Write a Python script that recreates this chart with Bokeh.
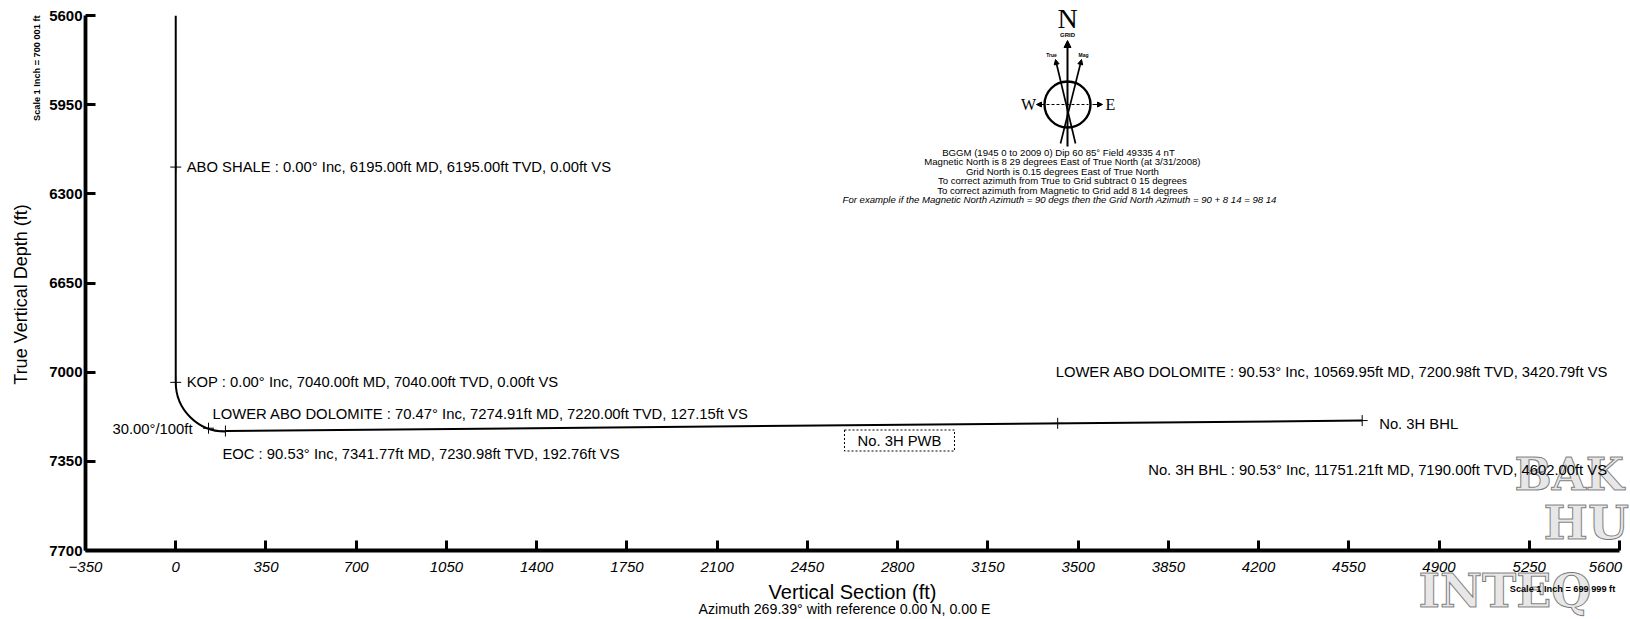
import math
from bokeh.plotting import figure
from bokeh.models import Range1d, FixedTicker, ColumnDataSource, Arrow, NormalHead
from bokeh.core.properties import value
from bokeh.embed import file_html
from bokeh.resources import INLINE

# ---------------- data ----------------
X_TICKS = [-350, 0, 350, 700, 1050, 1400, 1750, 2100, 2450, 2800, 3150, 3500,
           3850, 4200, 4550, 4900, 5250, 5600]
Y_TICKS = [5600, 5950, 6300, 6650, 7000, 7350, 7700]

# vertical hole (section shown from 5600 ft down to KOP)
VERT_VS = [0.00, 0.00]
VERT_TVD = [5600.00, 7040.00]
# build section
KOP_VS = 0.00
KOP_TVD = 7040.00
BUILD_RATE = 30.00          # deg / 100 ft
EOC_INC = 90.53             # deg
# lateral (tangent) section: EOC -> BHL
LAT_VS = [192.76, 4602.00]
LAT_TVD = [7230.98, 7190.00]

# survey points / formation tops
PT_NAME = ["ABO SHALE", "KOP", "LOWER ABO DOLOMITE", "EOC", "LOWER ABO DOLOMITE", "No. 3H BHL"]
PT_INC = [0.00, 0.00, 70.47, 90.53, 90.53, 90.53]
PT_MD = [6195.00, 7040.00, 7274.91, 7341.77, 10569.95, 11751.21]
PT_TVD = [6195.00, 7040.00, 7220.00, 7230.98, 7200.98, 7190.00]
PT_VS = [0.00, 0.00, 127.15, 192.76, 3420.79, 4602.00]

PLAN_NAME = "No. 3H PWB"
TARGET_NAME = "No. 3H BHL"
BUILD_TEXT = "30.00°/100ft"
X_TITLE = "Vertical Section (ft)"
Y_TITLE = "True Vertical Depth (ft)"

COMPASS_LINES = [
    "BGGM (1945 0 to 2009 0) Dip  60 85°  Field  49335 4 nT",
    "Magnetic North is 8 29 degrees East of True North (at 3/31/2008)",
    "Grid North is 0.15 degrees East of True North",
    "To correct azimuth from True to Grid subtract 0 15 degrees",
    "To correct azimuth from Magnetic to Grid add 8 14 degrees",
]
COMPASS_EXAMPLE = "For example  if the Magnetic North Azimuth = 90 degs  then the Grid North Azimuth = 90 + 8 14 = 98 14"
AZIMUTH_NOTE = "Azimuth 269.39° with reference 0.00 N, 0.00 E"
SCALE_Y_NOTE = "Scale 1 Inch = 700 001 ft"
SCALE_X_NOTE = "Scale 1 Inch = 699 999 ft"
LOGO_TEXT = ["BAK", "HU", "INTEQ"]

# ---------------- layout / style ----------------
FONT = "Liberation Sans"
SERIF = "Liberation Serif"
W, H = 1630, 619
ML, MR, MT, MB = 85, 11, 15, 69
FW = W - ML - MR
FH = H - MT - MB
PX_X = (X_TICKS[-1] - X_TICKS[0]) / FW     # data units per pixel
PX_Y = (Y_TICKS[-1] - Y_TICKS[0]) / FH

def page_x(px):
    return X_TICKS[0] + (px - ML) * PX_X
def page_y(py):
    return Y_TICKS[0] + (py - MT) * PX_Y

p = figure(width=W, height=H,
           x_range=Range1d(X_TICKS[0], X_TICKS[-1]),
           y_range=Range1d(Y_TICKS[-1], Y_TICKS[0]),
           output_backend="svg", toolbar_location=None,
           min_border_left=ML, min_border_right=MR,
           min_border_top=MT, min_border_bottom=MB)
p.outline_line_color = None
p.grid.visible = False
p.background_fill_color = "white"
p.border_fill_color = "white"

for ax in (p.xaxis[0], p.yaxis[0]):
    ax.axis_line_width = 3.8
    ax.axis_line_color = "black"
    ax.major_tick_in = 10
    ax.major_tick_out = 0
    ax.major_tick_line_width = 3
    ax.major_tick_line_color = "black"
    ax.minor_tick_in = 0
    ax.minor_tick_out = 0
    ax.major_label_text_font = FONT
    ax.major_label_text_font_size = "15px"
    ax.major_label_text_color = "black"
    ax.axis_label_text_font = FONT
    ax.axis_label_text_font_size = "20px"
    ax.axis_label_text_font_style = "normal"
    ax.axis_label_text_color = "black"

p.xaxis.ticker = FixedTicker(ticks=X_TICKS)
p.yaxis.ticker = FixedTicker(ticks=Y_TICKS)
# last label sits at the page edge: pad it so it stays fully visible
p.xaxis.major_label_overrides = {X_TICKS[-1]: str(X_TICKS[-1]) + "\u00a0" * 2}
p.xaxis.major_label_text_font_style = "italic"
p.yaxis.major_label_text_font_style = "bold"
p.xaxis.major_label_standoff = 7
p.yaxis.major_label_standoff = 3
p.xaxis.axis_label = X_TITLE
p.xaxis.axis_label_standoff = 3

# ---------------- well path ----------------
LW = 2
p.line(VERT_VS, VERT_TVD, line_color="black", line_width=LW)
R = 100.0 / math.radians(BUILD_RATE)
p.arc(x=[KOP_VS + R], y=[KOP_TVD], radius=R,
      start_angle=math.pi, end_angle=1.5 * math.pi + math.radians(EOC_INC - 90.0),
      direction="anticlock", line_color="black", line_width=LW)
p.line(LAT_VS, LAT_TVD, line_color="black", line_width=LW)
p.scatter(PT_VS, PT_TVD, marker="cross", size=11, line_color="black", line_width=1)

# ---------------- logo (overlay level, drawn under the labels) ----------------
p.text(x=[page_x(1514), page_x(1543), page_x(1418)],
       y=[page_y(474), page_y(522), page_y(590)],
       text=LOGO_TEXT, text_align="left", text_baseline="middle",
       text_font=value("DejaVu Serif"), text_font_size=["44px", "47px", "46px"],
       text_font_style="bold", text_color="#d0d0d0", text_alpha=0.5,
       text_outline_color="black", level="overlay")

# ---------------- annotations of the points ----------------
def pt_text(i):
    return (f"{PT_NAME[i]} : {PT_INC[i]:.2f}° Inc, {PT_MD[i]:.2f}ft MD, "
            f"{PT_TVD[i]:.2f}ft TVD, {PT_VS[i]:.2f}ft VS")

# (point index, text, x_offset px, y_offset px, align)
ANN = [
    (0, pt_text(0), 11, 0, "left"),
    (1, pt_text(1), 11, 0, "left"),
    (2, pt_text(2), 4, -14, "left"),
    (2, BUILD_TEXT, -16, 1, "right"),
    (3, pt_text(3), -3, 23, "left"),
    (4, pt_text(4), -2, -51, "left"),
    (5, TARGET_NAME, 17, 3, "left"),
    (5, pt_text(5), -214, 49, "left"),
]
src = ColumnDataSource(dict(
    x=[PT_VS[a[0]] for a in ANN],
    y=[PT_TVD[a[0]] for a in ANN],
    t=[a[1] for a in ANN],
    dx=[a[2] for a in ANN],
    dy=[a[3] for a in ANN],
    al=[a[4] for a in ANN],
))
p.text(x="x", y="y", text="t", x_offset="dx", y_offset="dy", text_align="al",
       text_baseline="middle", text_font=value(FONT), text_font_size="14.8px",
       text_color="black", source=src, level="overlay")

# plan name box
PWB_X, PWB_Y = page_x(899), page_y(440)
p.rect(x=[PWB_X], y=[PWB_Y], width=110, height=21, width_units="screen",
       height_units="screen", fill_color=None, line_color="black",
       line_dash="2 2", line_width=1)
p.text(x=[PWB_X], y=[PWB_Y], text=[PLAN_NAME], text_align="center",
       text_baseline="middle", text_font=value(FONT), text_font_size="14.8px",
       text_color="black")

# ---------------- north arrow / compass ----------------
CX, CY = page_x(1067), page_y(104)
def cx(d):
    return CX + d * PX_X
def cy(d):
    return CY + d * PX_Y

p.scatter([CX], [CY], marker="circle", size=46, fill_color=None,
          line_color="black", line_width=2.4)
p.segment(x0=[cx(-21)], y0=[CY], x1=[cx(21)], y1=[CY], line_color="black",
          line_width=1, line_dash="3 2")
head = dict(line_color="black", fill_color="black")
p.add_layout(Arrow(x_start=CX, y_start=cy(42), x_end=CX, y_end=cy(-64),
                   line_width=2, end=NormalHead(size=7, **head)))
p.add_layout(Arrow(x_start=cx(8), y_start=cy(39), x_end=cx(-12), y_end=cy(-45),
                   line_width=1.7, end=NormalHead(size=5, **head)))
p.add_layout(Arrow(x_start=cx(-7), y_start=cy(39), x_end=cx(14), y_end=cy(-45),
                   line_width=1.7, end=NormalHead(size=5, **head)))
p.add_layout(Arrow(x_start=cx(-23), y_start=CY, x_end=cx(-31), y_end=CY,
                   line_width=1, end=NormalHead(size=5, **head)))
p.add_layout(Arrow(x_start=cx(25), y_start=CY, x_end=cx(35), y_end=CY,
                   line_width=1, end=NormalHead(size=5, **head)))

p.text(x=[CX], y=[cy(-86)], text=["N"], text_align="center", text_baseline="middle",
       text_font=value(SERIF), text_font_size="28px", text_color="black", level="overlay")
p.text(x=[cx(-39)], y=[CY], text=["W"], text_align="center", text_baseline="middle",
       text_font=value(SERIF), text_font_size="16px", text_color="black")
p.text(x=[cx(43)], y=[CY], text=["E"], text_align="center", text_baseline="middle",
       text_font=value(SERIF), text_font_size="16px", text_color="black")
p.text(x=[CX], y=[cy(-70)], text=["GRID"], text_align="center", text_baseline="middle",
       text_font=value(FONT), text_font_size="6px", text_font_style="bold", text_color="black")
p.text(x=[cx(-16), cx(16)], y=[cy(-50), cy(-50)], text=["True", "Mag"], text_align="center",
       text_baseline="middle", text_font=value(FONT), text_font_size="5px",
       text_font_style="bold", text_color="black")

p.text(x=[cx(-5)] * len(COMPASS_LINES),
       y=[cy(48 + 9.4 * i) for i in range(len(COMPASS_LINES))],
       text=COMPASS_LINES, text_align="center", text_baseline="middle",
       text_font=value(FONT), text_font_size="9.6px", text_color="black")
p.text(x=[cx(-5)], y=[cy(48 + 9.4 * len(COMPASS_LINES))], text=[COMPASS_EXAMPLE],
       text_align="center", text_baseline="middle", text_font=value(FONT),
       text_font_size="9.6px", text_font_style="italic", text_color="black")

# ---------------- notes outside the frame (overlay level, not clipped) ----------------
p.text(x=[page_x(20)], y=[page_y(294)], text=[Y_TITLE], angle=math.pi / 2,
       text_align="center", text_baseline="middle", text_font=value(FONT),
       text_font_size="18px", text_color="black", level="overlay")
p.text(x=[page_x(36)], y=[page_y(15)], text=[SCALE_Y_NOTE], angle=math.pi / 2,
       text_align="right", text_baseline="middle", text_font=value(FONT),
       text_font_size="9.2px", text_font_style="bold", text_color="black", level="overlay")
p.text(x=[page_x(844)], y=[page_y(608)], text=[AZIMUTH_NOTE],
       text_align="center", text_baseline="middle", text_font=value(FONT),
       text_font_size="14.2px", text_color="black", level="overlay")
p.text(x=[page_x(1562)], y=[page_y(588)], text=[SCALE_X_NOTE],
       text_align="center", text_baseline="middle", text_font=value(FONT),
       text_font_size="9.2px", text_font_style="bold", text_color="black", level="overlay")

open("out.html", "w").write(file_html(p, INLINE))
